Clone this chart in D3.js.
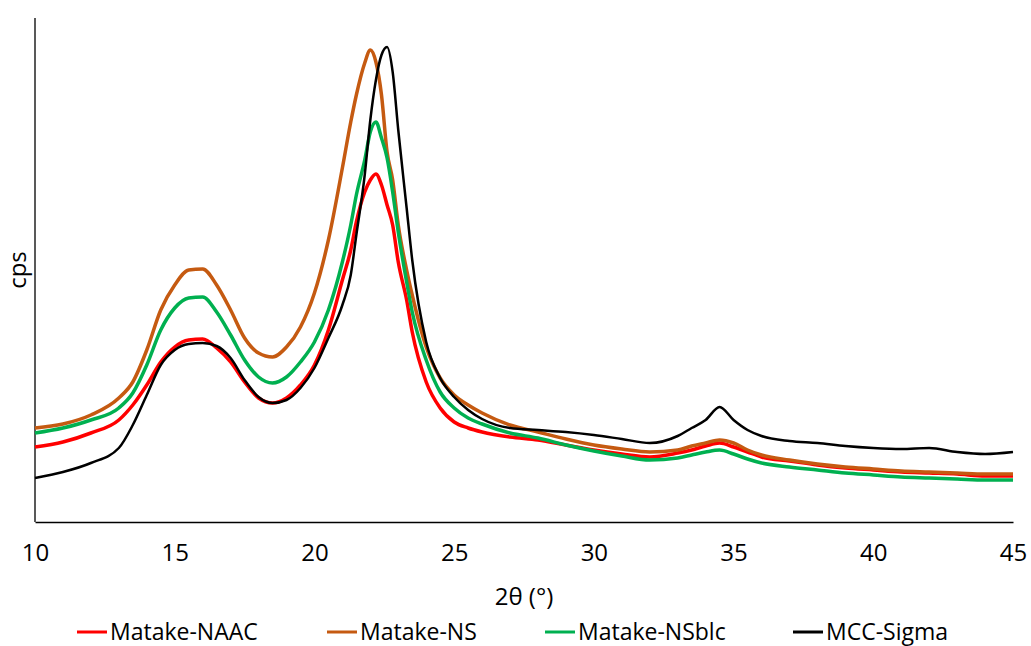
<!DOCTYPE html>
<html lang="en">
<head>
  <meta charset="UTF-8" />
  <title>XRD</title>
  <style>
    body { margin: 0; background: #fff; }
    text { font-family: "Open Sans", sans-serif; fill: #000; }
  </style>
</head>
<body>
  <svg id="chart" width="1031" height="646"></svg>

  <script src="https://d3js.org/d3.v7.min.js"></script>
  <script>
    // 2theta positions (degrees)
    const angles = [10, 11, 12, 13, 13.5, 14, 14.5, 15, 15.5, 16, 16.5, 17, 17.5, 18, 18.5, 19, 19.5, 20, 20.5, 21,
      21.3, 21.5, 21.8, 22, 22.2, 22.4, 22.6, 22.8, 23, 23.3, 23.5, 24, 24.5, 25, 25.5, 26, 27, 28, 29, 30,
      31, 32, 33, 33.5, 34, 34.5, 35, 35.5, 36, 37, 38, 39, 40, 41, 42, 43, 44, 45];

    // intensities (arbitrary cps units)
    const naac = [75, 80, 89, 102, 117, 137, 160, 175, 182, 183, 174, 160, 140, 124, 119, 124, 137, 157, 192, 242,
      272, 300, 330, 342, 348, 337, 317, 297, 260, 222, 190, 140, 114, 100, 94, 90, 85, 82, 77, 72,
      68, 65, 69, 72, 76, 79, 75, 70, 65, 61, 57, 54, 52, 50, 49, 48, 46, 46];
    const ns = [94, 98, 107, 124, 140, 172, 212, 237, 252, 253, 237, 212, 184, 169, 165, 175, 195, 229, 282, 354,
      400, 427, 459, 472, 460, 427, 370, 342, 297, 252, 227, 175, 144, 127, 117, 109, 97, 90, 83, 77,
      73, 70, 72, 76, 79, 82, 79, 72, 67, 62, 58, 55, 53, 51, 50, 49, 48, 48];
    const nsblc = [89, 94, 102, 114, 129, 157, 192, 214, 224, 225, 210, 187, 162, 145, 139, 145, 160, 180, 212, 260,
      297, 327, 362, 390, 400, 384, 364, 330, 290, 240, 210, 162, 130, 114, 104, 98, 89, 84, 77, 71,
      66, 62, 64, 67, 70, 72, 68, 63, 59, 55, 52, 49, 47, 45, 44, 43, 42, 42];
    const mcc = [44, 50, 59, 74, 97, 127, 157, 172, 178, 179, 176, 164, 142, 125, 119, 122, 134, 154, 184, 217,
      247, 287, 347, 402, 442, 467, 475, 450, 392, 314, 262, 180, 144, 125, 112, 103, 94, 92, 90, 87,
      83, 79, 86, 94, 102, 115, 102, 92, 86, 81, 79, 76, 74, 73, 74, 70, 68, 70];

    const seriesNames = ["Matake-NAAC", "Matake-NS", "Matake-NSblc", "MCC-Sigma"];
    const seriesValues = [naac, ns, nsblc, mcc];
    const seriesColors = ["#ff0000", "#c55a11", "#00b050", "#000000"];
    const xTicks = [10, 15, 20, 25, 30, 35, 40, 45];

    const svg = d3.select("#chart");

    const x = d3.scaleLinear().domain([10, 45]).range([35, 1013]);
    const y = d3.scaleLinear().domain([0, 504]).range([522, 18]);

    // x axis
    const xAxis = svg.append("g")
      .attr("transform", "translate(0,522)")
      .call(d3.axisBottom(x).tickValues(xTicks).tickSize(0).tickPadding(22));
    xAxis.select(".domain").attr("stroke", "#000").attr("stroke-width", 1.5);
    xAxis.selectAll("text")
      .attr("font-family", "Open Sans")
      .attr("font-size", "24px")
      .attr("fill", "#000");

    // y axis, no ticks
    svg.append("line")
      .attr("x1", 35).attr("x2", 35)
      .attr("y1", y(504)).attr("y2", y(0))
      .attr("stroke", "#595959")
      .attr("stroke-width", 2);

    // lines
    const line = d3.line()
      .x((d, i) => x(angles[i]))
      .y(d => y(d))
      .curve(d3.curveMonotoneX);

    seriesValues.forEach((vals, i) => {
      svg.append("path")
        .datum(vals)
        .attr("fill", "none")
        .attr("stroke", seriesColors[i])
        .attr("stroke-width", i === 3 ? 2.5 : 3.5)
        .attr("stroke-linejoin", "round")
        .attr("d", line);
    });

    // axis titles
    svg.append("text")
      .attr("x", 524)
      .attr("y", 605)
      .attr("text-anchor", "middle")
      .attr("font-size", "24px")
      .text("2θ (°)");

    svg.append("text")
      .attr("transform", "translate(26,270) rotate(-90)")
      .attr("text-anchor", "middle")
      .attr("font-size", "24px")
      .text("cps");

    // legend
    const legendX = [77, 327, 545, 793];
    const legend = svg.append("g");
    seriesNames.forEach((name, i) => {
      legend.append("line")
        .attr("x1", legendX[i]).attr("x2", legendX[i] + 30)
        .attr("y1", 632).attr("y2", 632)
        .attr("stroke", seriesColors[i])
        .attr("stroke-width", 3);
      legend.append("text")
        .attr("x", legendX[i] + 33)
        .attr("y", 640)
        .attr("font-size", "23px")
        .text(name);
    });
  </script>
</body>
</html>
